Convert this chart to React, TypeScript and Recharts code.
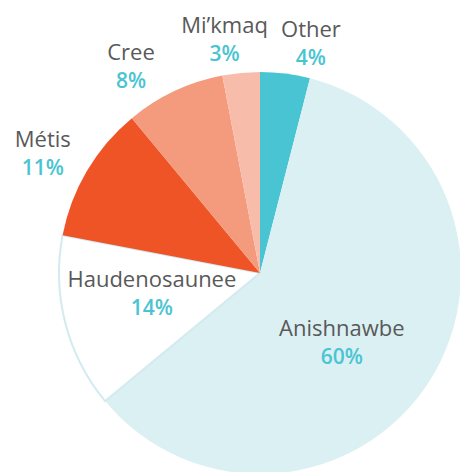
import { PieChart, Pie, Cell } from 'recharts';

const groups = ['Other', 'Anishnawbe', 'Haudenosaunee', 'Métis', 'Cree', 'Mi’kmaq'];
const shares = [4, 60, 14, 11, 8, 3];

const chartData = groups.map((name, i) => ({ name, value: shares[i] }));

const fills: Record<string, string> = {
  Other: '#49c4d2',
  Anishnawbe: '#dbf0f3',
  Haudenosaunee: '#ffffff',
  'Métis': '#ef5427',
  Cree: '#f49a7d',
  'Mi’kmaq': '#f8bcab',
};

// label placement: radius from centre and angle nudge (degrees) relative to the slice mid angle
const labelPos: Record<string, { r: number; da: number }> = {
  Other: { r: 241, da: -5 },
  Anishnawbe: { r: 103, da: -5 },
  Haudenosaunee: { r: 109, da: -7 },
  'Métis': { r: 251, da: 0.5 },
  Cree: { r: 249, da: 6 },
  'Mi’kmaq': { r: 243, da: 3 },
};

const RAD = Math.PI / 180;
const FONT = '"Open Sans", sans-serif';

const renderLabel = (props: any) => {
  const { cx, cy, midAngle, name, value } = props;
  const pos = labelPos[name];
  const a = (midAngle + pos.da) * RAD;
  const x = cx + pos.r * Math.cos(-a);
  const y = cy + pos.r * Math.sin(-a);
  return (
    <g>
      <text x={x} y={y} textAnchor="middle" fill="#595959" fontSize={22} fontFamily={FONT}>
        {name}
      </text>
      <text x={x} y={y + 28} textAnchor="middle" fill="#49c4d2" fontSize={21} fontWeight={600} fontFamily={FONT}>
        {value}%
      </text>
    </g>
  );
};

export default function App() {
  return (
    <div style={{ width: 460, height: 472, background: '#fff' }}>
      <style>{'body{margin:0}'}</style>
      <PieChart width={460} height={472} margin={{ top: 0, right: 0, bottom: 0, left: 0 }}>
        <Pie
          data={chartData}
          dataKey="value"
          nameKey="name"
          cx={260}
          cy={273}
          outerRadius={201}
          startAngle={90}
          endAngle={-270}
          label={renderLabel}
          labelLine={false}
          isAnimationActive={false}
        >
          {chartData.map((entry, index) => (
            <Cell
              key={`cell-${index}`}
              fill={fills[entry.name]}
              stroke={entry.name === 'Haudenosaunee' ? '#d3ebf0' : fills[entry.name]}
              strokeWidth={entry.name === 'Haudenosaunee' ? 2 : 0}
            />
          ))}
        </Pie>
      </PieChart>
    </div>
  );
}
